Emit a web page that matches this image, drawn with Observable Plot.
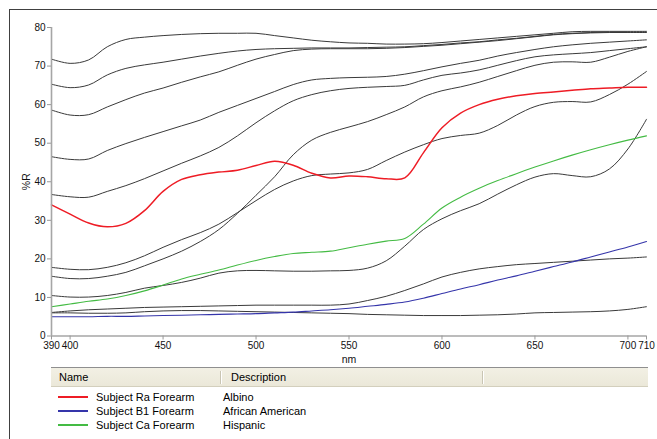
<!DOCTYPE html>
<html><head><meta charset="utf-8">
<script src="https://cdn.jsdelivr.net/npm/d3@7"></script>
<script src="https://cdn.jsdelivr.net/npm/@observablehq/plot@0.6"></script>
<style>
html,body{margin:0;padding:0;background:#fff;}
#page{position:relative;width:657px;height:439px;overflow:hidden;font-family:"Liberation Sans",Arial,sans-serif;background:#fff;}
#frame{position:absolute;left:9px;top:9px;width:700px;height:500px;border-left:1px solid #404040;border-top:1px solid #404040;}
#chart{position:absolute;left:0;top:0;}
#chart svg g[aria-label="x-axis tick label"] text, #chart svg g[aria-label="y-axis tick label"] text{font-size:10px;}
#legend{position:absolute;left:51px;top:367px;width:597px;height:70px;font-size:11px;color:#000;}
#legend .hdr{position:absolute;left:0;top:0;width:597px;height:18px;background:linear-gradient(#f2f0e4,#ebe8d9);border-top:1px solid #8f8f8f;border-bottom:1px solid #d3cfbd;}
#legend .hdr span{position:absolute;top:3px;line-height:13px;}
#legend .sep{position:absolute;top:3px;width:1px;height:13px;background:#c9c5b3;border-right:1px solid #fff;}
#legend .row{position:absolute;left:0;height:14px;line-height:14px;white-space:nowrap;}
#legend .sw{position:absolute;left:7px;top:6px;width:30px;height:2px;}
#legend .nm{position:absolute;left:45px;top:0;}
#legend .ds{position:absolute;left:172px;top:0;}
</style>
</head>
<body>
<div id="page">
  <div id="frame"></div>
  <div id="chart"></div>
  <div id="legend"></div>
</div>
<script>
// Wavelength grid (nm)
const wavelengths = [390,400,410,420,430,440,450,460,470,480,490,500,510,520,530,540,550,560,570,580,590,600,610,620,630,640,650,660,670,680,690,700,710];
const xTicks = [390,400,450,500,550,600,650,700,710];
const yTicks = [0,10,20,30,40,50,60,70,80];

// Unlabelled (black) reflectance spectra, %R
const spectrum1 = [71.8,70.7,71.6,75.0,76.9,77.5,77.9,78.2,78.4,78.5,78.5,78.5,77.9,77.3,76.7,76.3,76.0,75.9,75.7,75.7,75.8,76.1,76.5,76.9,77.3,77.7,78.1,78.5,78.9,79.0,79.0,79.0,79.0];
const spectrum2 = [65.3,64.4,65.1,67.7,69.4,70.3,71.0,71.8,72.6,73.3,73.9,74.3,74.5,74.6,74.7,74.7,74.7,74.8,74.9,75.0,75.3,75.6,76.0,76.3,76.8,77.2,77.7,78.2,78.5,78.7,78.8,78.8,78.8];
const spectrum3 = [58.6,57.3,57.4,59.4,61.3,63.0,64.3,65.8,67.2,68.5,70.2,71.8,73.0,74.0,74.4,74.5,74.5,74.5,74.6,74.8,75.1,75.4,75.8,76.2,76.6,77.1,77.6,78.1,78.4,78.6,78.7,78.7,78.7];
const spectrum4 = [46.5,45.8,45.9,48.1,49.9,51.5,53.0,54.5,56.0,58.0,59.8,61.6,63.4,65.2,66.4,66.8,67.0,67.1,67.3,67.9,68.8,69.8,70.7,71.5,72.6,73.5,74.3,75.0,75.5,75.9,76.2,76.5,76.8];
const spectrum5 = [36.7,36.1,36.0,37.5,39.0,40.8,42.8,44.8,46.7,48.9,51.9,55.3,58.4,61.0,62.6,63.6,64.2,64.5,64.7,65.0,66.4,67.6,68.2,69.0,70.2,71.4,72.4,72.9,73.2,73.5,74.0,74.5,75.0];
const spectrum6 = [17.8,17.3,17.2,17.8,19.0,20.8,23.0,25.0,26.8,29.0,32.0,35.1,38.0,40.2,41.6,42.0,42.3,43.2,45.5,47.7,49.6,51.2,52.0,52.6,54.6,57.3,59.5,60.6,60.8,60.7,62.6,65.3,68.6];
const spectrum7 = [15.5,14.9,14.9,15.5,16.5,18.2,20.0,22.0,24.5,27.6,31.8,36.5,41.3,47.0,50.8,52.8,54.2,55.6,57.4,59.4,62.0,63.6,64.6,65.8,67.3,68.8,70.2,71.0,71.1,71.0,72.3,73.8,75.0];
const spectrum8 = [10.5,10.1,10.1,10.5,11.3,12.4,13.1,13.9,15.0,16.3,16.9,17.0,16.9,16.8,16.8,16.9,17.0,17.6,19.5,23.3,27.6,30.4,32.5,34.3,36.8,39.2,41.2,42.1,41.6,41.3,43.3,48.5,56.2];
const spectrum9 = [6.1,6.5,6.8,7.0,7.2,7.4,7.5,7.6,7.7,7.8,7.9,8.0,8.0,8.0,8.0,8.0,8.3,9.2,10.3,11.8,13.5,15.3,16.5,17.4,18.0,18.5,18.8,19.1,19.4,19.7,20.0,20.2,20.5];
const spectrum10 = [6.0,6.0,5.9,5.9,6.0,6.3,6.5,6.6,6.6,6.5,6.4,6.3,6.2,6.1,6.0,5.9,5.8,5.6,5.5,5.4,5.3,5.3,5.3,5.4,5.5,5.7,6.0,6.1,6.2,6.3,6.5,6.9,7.6];

// Labelled spectra
const subjectRa = [34.0,31.6,29.3,28.3,29.2,32.5,37.5,40.6,41.8,42.5,43.0,44.2,45.3,44.3,42.2,41.0,41.5,41.3,40.8,41.0,47.5,54.0,57.8,60.0,61.4,62.3,62.9,63.3,63.7,64.1,64.3,64.5,64.5];
const subjectB1 = [5.0,5.0,5.0,5.1,5.1,5.2,5.3,5.4,5.5,5.6,5.7,5.8,6.0,6.2,6.5,6.8,7.2,7.7,8.2,8.8,9.8,11.0,12.2,13.3,14.5,15.6,16.8,18.0,19.2,20.5,21.8,23.1,24.5];
const subjectCa = [7.6,8.3,9.0,9.6,10.5,11.7,13.2,14.8,16.0,17.1,18.4,19.6,20.6,21.4,21.7,22.0,22.9,23.8,24.6,25.3,29.0,33.2,36.0,38.3,40.3,42.1,43.8,45.4,46.9,48.3,49.6,50.8,51.9];

const legendNames = ["Subject Ra Forearm","Subject B1 Forearm","Subject Ca Forearm"];
const legendDescriptions = ["Albino","African American","Hispanic"];
const legendColors = ["#ee1c25","#3535aa","#44bb44"];

const blackSpectra = [spectrum1,spectrum2,spectrum3,spectrum4,spectrum5,spectrum6,spectrum7,spectrum8,spectrum9,spectrum10];
const toRows = (vals, key) => vals.map((v, j) => ({series: key, nm: wavelengths[j], r: v}));
const blackRows = blackSpectra.flatMap((vals, i) => toRows(vals, "s" + i));
const raRows = toRows(subjectRa, legendNames[0]);
const b1Rows = toRows(subjectB1, legendNames[1]);
const caRows = toRows(subjectCa, legendNames[2]);

const chart = Plot.plot({
  width: 657,
  height: 366,
  marginLeft: 51,
  marginRight: 11,
  marginTop: 27,
  marginBottom: 30.5,
  x: {domain: [390, 710]},
  y: {domain: [0, 80]},
  style: {fontFamily: "'Liberation Sans', Arial, sans-serif", fontSize: "10.5px", color: "#000", background: "transparent", overflow: "visible"},
  marks: [
    Plot.lineY(blackRows, {x: "nm", y: "r", z: "series", stroke: "#3a3a3a", strokeWidth: 1, curve: "catmull-rom"}),
    Plot.lineY(caRows, {x: "nm", y: "r", stroke: legendColors[2], strokeWidth: 1.1, curve: "catmull-rom"}),
    Plot.lineY(b1Rows, {x: "nm", y: "r", stroke: legendColors[1], strokeWidth: 1.1, curve: "catmull-rom"}),
    Plot.lineY(raRows, {x: "nm", y: "r", stroke: legendColors[0], strokeWidth: 1.5, curve: "catmull-rom"}),
    Plot.ruleX([390], {stroke: "#a6a6a6", strokeWidth: 1.6}),
    Plot.ruleY([0], {stroke: "#a6a6a6", strokeWidth: 1.6}),
    Plot.axisY(yTicks, {tickSize: 4, tickPadding: 2, stroke: "#999", fill: "#111", label: "%R", labelAnchor: "center", labelArrow: "none", labelOffset: 29}),
    Plot.axisX(xTicks, {tickSize: 4, tickPadding: 2, stroke: "#999", fill: "#111", tickFormat: d => String(d), label: "nm", labelAnchor: "center", labelArrow: "none", labelOffset: 27})
  ]
});
document.getElementById("chart").appendChild(chart);
// tick labels slightly smaller, like the reference
chart.querySelectorAll('g[aria-label$="tick label"]').forEach(g => g.setAttribute("font-size", "10"));

// Legend table
const legend = document.getElementById("legend");
let html = '<div class="hdr"><span style="left:8px">Name</span><div class="sep" style="left:169px"></div><span style="left:180px">Description</span><div class="sep" style="left:431px"></div></div>';
const rowTops = [23, 37, 51];
legendNames.forEach((n, i) => {
  html += `<div class="row" style="top:${rowTops[i]}px;width:597px"><div class="sw" style="background:${legendColors[i]}"></div><span class="nm">${n}</span><span class="ds">${legendDescriptions[i]}</span></div>`;
});
legend.innerHTML = html;
</script>
</body></html>
